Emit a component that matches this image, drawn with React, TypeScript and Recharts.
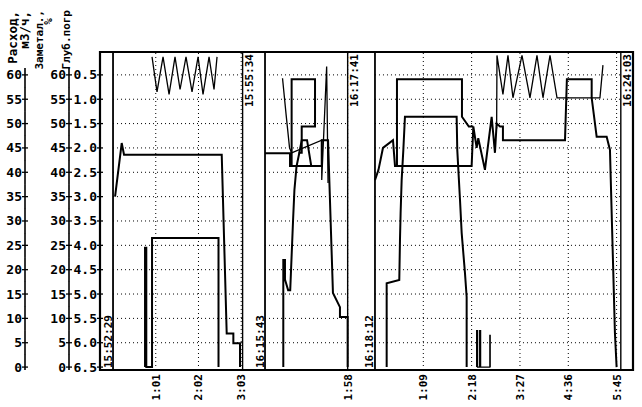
import { LineChart, Line, XAxis, YAxis, ReferenceLine, ReferenceArea } from "recharts";

type Pt = [number, number];

// three recording windows laid side by side on one time axis (seconds)
const PANEL_START = [0, 217, 374];
const PANEL_LEN = [185, 118, 351];
const PANEL_BEGIN = ["15:52:29", "16:15:43", "16:18:12"];
const PANEL_END = ["15:55:34", "16:17:41", "16:24:03"];
const TICK_SEC = [[61, 122, 183], [118], [69, 138, 207, 276, 345]];
const TICK_LABEL = [["1:01", "2:02", "3:03"], ["1:58"], ["1:09", "2:18", "3:27", "4:36", "5:45"]];
const VALUE_TICKS = [0, 5, 10, 15, 20, 25, 30, 35, 40, 45, 50, 55, 60];
const GRID_VALUES = [5, 10, 15, 20, 25, 30, 35, 40, 45, 50, 55, 60];

// flow trace, elapsed seconds within each window
const flow1: Pt[] = [[2.9, 35], [12.4, 46], [15.7, 43.6], [155.2, 43.6], [162.3, 6.9], [171.8, 6.9], [171.8, 4.9], [181.3, 4.9], [181.3, 0]];
const flow2: Pt[] = [[0, 43.9], [35.7, 43.9], [35.7, 41.3], [81, 41.3], [81, 46.6], [90, 46.6], [97, 15.2], [107, 12.3], [107, 10.3], [118, 10.3], [118, 0]];
const flow3: Pt[] = [[0, 38.4], [5, 40.5], [11.4, 45], [25.7, 46.6], [28.6, 41.3], [138, 41.3], [140.4, 49.4], [145.2, 45], [147.5, 47], [157, 40.5], [166.6, 51.4], [171.3, 44], [173.7, 50], [178.5, 49.4], [182.7, 49.4], [182.7, 46.6], [271.3, 46.6], [274, 59.1], [309.4, 59.1], [309.4, 55.3], [316.5, 47.3], [330.8, 47.3], [335.5, 44.6], [342.6, 7], [345, 0]];

// valve / box shaped trace
const box1: Pt[] = [[45.7, 0], [45.7, 24.5], [47.5, 24.5], [47.5, 0], [55.7, 0], [55.7, 26.5], [150.6, 26.5], [150.6, 0]];
const box2: Pt[] = [[38, 41.3], [38, 59.1], [71.4, 59.1], [71.4, 49.4], [52.4, 49.4], [52.4, 44], [48, 44]];
const box3: Pt[] = [[31.4, 41.3], [31.4, 59.1], [124.2, 59.1], [124.2, 51.4], [134, 49.4], [140.4, 49.4]];

// staircase trace
const stair2: Pt[] = [[26.1, 0], [26.1, 22], [28.5, 22], [28.5, 18], [33, 15.8], [36, 15.8], [40, 30], [42, 36.4], [45, 41.2], [49, 44], [52.4, 46.6], [60, 46.6], [66, 41.3]];
const stair3: Pt[] = [[16.7, 0], [16.7, 17.2], [34.7, 17.9], [35.7, 26.1], [36.6, 31.6], [38.1, 38.4], [40.5, 44.6], [42.8, 51.4], [116.6, 51.4], [117.5, 44.6], [121.4, 34.3], [123.8, 27.5], [128.5, 19.3], [130.9, 14.4], [130.9, 0]];

// oscillating depth trace
const zig1: Pt[] = [[55.7, 63.7], [62.8, 56.5], [71.4, 63.7], [80, 56], [88.5, 63.7], [95.7, 57], [104.2, 63.7], [112.8, 56.5], [121.4, 63.7], [128.5, 56], [137.1, 63.7], [144.2, 57], [148.5, 63.7]];
const zig2: Pt[] = [[25, 59.3], [30, 52], [35, 45], [38, 44], [81, 46.6], [81, 38.4], [86, 55], [88, 61.7], [90, 37.8]];
const zig3: Pt[] = [[173.7, 49], [174.2, 64], [182.7, 56], [189.9, 64], [197, 55.3], [209.9, 64], [221.3, 55.3], [231.3, 64], [239.9, 55.3], [249.9, 64], [259.9, 55.3], [264.1, 55.3], [321.2, 55.3], [325.5, 62]];

// short pulses near the bottom of window 3
const spike3: Pt[] = [[145.2, 0], [145.2, 7.5], [146.5, 7.5], [146.5, 0], [149.5, 0], [149.5, 7.5], [150.8, 7.5], [150.8, 0], [164, 0], [164, 6.5], [164.5, 6.5], [164.5, 0]];

const FONT = "'DejaVu Sans Mono', monospace";

type Row = { t: number; v: number | null };

function build(segs: [number, Pt[]][]): Row[] {
  const out: Row[] = [];
  segs.forEach(([p, pts], i) => {
    pts.forEach(([s, v]) => out.push({ t: PANEL_START[p] + s, v }));
    if (i < segs.length - 1) out.push({ t: out[out.length - 1].t, v: null });
  });
  return out;
}

const SERIES = [
  { name: "flow", w: 2, data: build([[0, flow1], [1, flow2], [2, flow3]]) },
  { name: "box", w: 2, data: build([[0, box1], [1, box2], [2, box3]]) },
  { name: "stair", w: 2, data: build([[1, stair2], [2, stair3]]) },
  { name: "zig", w: 1.3, data: build([[0, zig1], [1, zig2], [2, zig3]]) },
  { name: "spike", w: 1.3, data: build([[2, spike3]]) },
];

const tickPos = TICK_SEC.flatMap((ts, p) => ts.map((s) => PANEL_START[p] + s));
const tickText: Record<number, string> = {};
TICK_SEC.forEach((ts, p) => ts.forEach((s, i) => (tickText[PANEL_START[p] + s] = TICK_LABEL[p][i])));

function ValueTick(props: any) {
  const { x, y, payload, fmt } = props;
  const v = payload.value;
  return (
    <g>
      <line x1={x} x2={x} y1={v === 60 ? y - 7 : y - 12.3} y2={v === 0 ? y + 3 : y + 12.3} stroke="#000" strokeWidth={1.6} />
      <line x1={x - 3} x2={x + 3} y1={y} y2={y} stroke="#000" strokeWidth={1.3} />
      <text x={x - 3} y={y} dy={4.5} textAnchor="end" fontFamily={FONT} fontWeight="bold" fontSize={13} fill="#000">
        {fmt(v)}
      </text>
    </g>
  );
}

function TimeTick(props: any) {
  const { x, y, payload } = props;
  const ax = x + 4;
  const ay = y + 4;
  return (
    <text x={ax} y={ay} textAnchor="end" transform={`rotate(-90, ${ax}, ${ay})`} fontFamily={FONT} fontWeight="bold" fontSize={11} fill="#000">
      {tickText[payload.value]}
    </text>
  );
}

function StampLabel(props: any) {
  const { viewBox, text, top } = props;
  if (!viewBox) return null;
  const ax = top ? viewBox.x + 10.5 : viewBox.x - 1.5;
  const ay = top ? viewBox.y + 2 : viewBox.y + viewBox.height - 2;
  return (
    <text x={ax} y={ay} textAnchor={top ? "end" : "start"} transform={`rotate(-90, ${ax}, ${ay})`} fontFamily={FONT} fontWeight="bold" fontSize={11} fill="#000">
      {text}
    </text>
  );
}

const TITLES = [
  { text: "Расход,", x: 17, y: 11, size: 12.5 },
  { text: "м3/ч,", x: 29, y: 11, size: 12.5 },
  { text: "Заметал.,", x: 43, y: 10, size: 11 },
  { text: "%", x: 52, y: 18, size: 11 },
  { text: "Глуб.погр", x: 70, y: 10, size: 11 },
];

export default function App() {
  return (
    <div style={{ position: "absolute", left: 0, top: 0, width: 642, height: 407, background: "#fff" }}>
      <LineChart width={642} height={407} margin={{ top: 52, right: 9, bottom: 0, left: 0 }}>
        <XAxis
          type="number"
          dataKey="t"
          domain={[-18.6, 742.4]}
          allowDataOverflow
          ticks={tickPos}
          interval={0}
          height={37}
          axisLine={false}
          tickLine={false}
          tickSize={0}
          tickMargin={0}
          tick={(p: any) => <TimeTick {...p} />}
        />
        <YAxis yAxisId="gap" type="number" domain={[-0.6, 64.7]} width={17} tick={false} axisLine={false} tickLine={false} />
        <YAxis
          yAxisId="depth"
          type="number"
          domain={[-0.6, 64.7]}
          allowDataOverflow
          width={31}
          ticks={VALUE_TICKS}
          interval={0}
          axisLine={false}
          tickLine={false}
          tickSize={0}
          tickMargin={0}
          tick={(p: any) => <ValueTick {...p} fmt={(v: number) => (6.5 - v / 10).toFixed(1)} />}
        />
        <YAxis
          yAxisId="pct"
          type="number"
          domain={[-0.6, 64.7]}
          allowDataOverflow
          width={25}
          ticks={VALUE_TICKS}
          interval={0}
          axisLine={false}
          tickLine={false}
          tickSize={0}
          tickMargin={0}
          tick={(p: any) => <ValueTick {...p} fmt={(v: number) => String(v)} />}
        />
        <YAxis
          yAxisId="flow"
          type="number"
          domain={[-0.6, 64.7]}
          allowDataOverflow
          width={27}
          ticks={VALUE_TICKS}
          interval={0}
          axisLine={false}
          tickLine={false}
          tickSize={0}
          tickMargin={0}
          tick={(p: any) => <ValueTick {...p} fmt={(v: number) => String(v)} />}
        />

        {PANEL_START.flatMap((s, p) =>
          GRID_VALUES.map((v) => (
            <ReferenceLine
              key={`g${p}-${v}`}
              yAxisId="flow"
              segment={[{ x: s, y: v }, { x: s + PANEL_LEN[p], y: v }]}
              stroke="#000"
              strokeWidth={1}
              strokeDasharray="1 3"
            />
          ))
        )}
        {tickPos.map((t) => (
          <ReferenceLine key={`vx${t}`} yAxisId="flow" x={t} stroke="#000" strokeWidth={1} strokeDasharray="1 3" />
        ))}
        {PANEL_START.map((s, p) => (
          <ReferenceLine key={`ps${p}`} yAxisId="flow" x={s} stroke="#000" strokeWidth={1.8} label={<StampLabel text={PANEL_BEGIN[p]} />} />
        ))}
        {PANEL_START.map((s, p) => (
          <ReferenceLine key={`pe${p}`} yAxisId="flow" x={s + PANEL_LEN[p]} stroke="#000" strokeWidth={1.4} label={<StampLabel text={PANEL_END[p]} top />} />
        ))}
        <ReferenceArea yAxisId="flow" x1={-18.6} x2={742.4} y1={-0.6} y2={64.7} fill="none" fillOpacity={0} stroke="#000" strokeWidth={2.2} />

        {SERIES.map((s) => (
          <Line
            key={s.name}
            yAxisId="flow"
            data={s.data}
            dataKey="v"
            type="linear"
            stroke="#000"
            strokeWidth={s.w}
            dot={false}
            activeDot={false}
            connectNulls={false}
            isAnimationActive={false}
          />
        ))}
      </LineChart>
      <svg width={100} height={70} style={{ position: "absolute", left: 0, top: 0, pointerEvents: "none" }}>
        {TITLES.map((t) => (
          <text
            key={t.text}
            x={t.x}
            y={t.y}
            textAnchor="end"
            transform={`rotate(-90, ${t.x}, ${t.y})`}
            fontFamily={FONT}
            fontWeight="bold"
            fontSize={t.size}
            fill="#000"
          >
            {t.text}
          </text>
        ))}
      </svg>
    </div>
  );
}
